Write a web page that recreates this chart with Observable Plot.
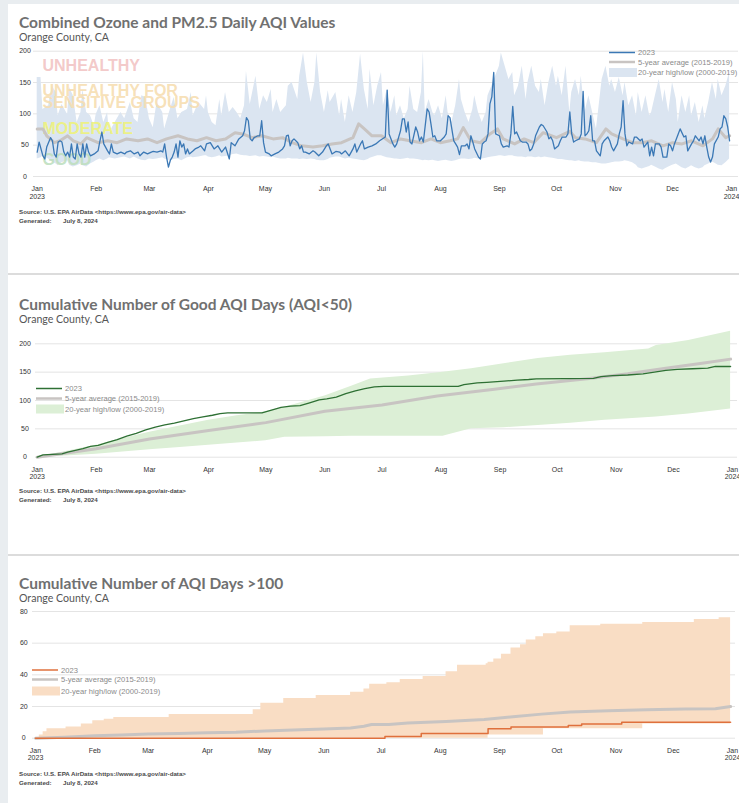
<!DOCTYPE html>
<html><head><meta charset="utf-8">
<script src="https://cdn.jsdelivr.net/npm/d3@7"></script>
<script src="https://cdn.jsdelivr.net/npm/@observablehq/plot@0.6"></script>
<style>
html,body{margin:0;padding:0;background:#fff;overflow:hidden;}
#page{position:relative;width:739px;height:803px;overflow:hidden;background:#fff;}
.strip{position:absolute;background:#e9edf0;}
.sep{position:absolute;left:8px;width:731px;height:2px;background:#dcdcdc;}
</style></head>
<body><div id="page">
<div class="strip" style="left:0;top:0;width:8px;height:803px"></div>
<div class="strip" style="left:0;top:0;width:739px;height:4px"></div>
<div class="sep" style="top:273px"></div>
<div class="sep" style="top:554px"></div>
</div>
<script>
// ---------------- DATA ----------------
// Panel 1: daily combined AQI 2023 [dayOfYear, AQI]
const aqi2023 = [[0,39],[1,55],[3,33],[4,28],[5,47],[7,62],[8,57],[9,36],[10,31],[11,55],[12,57],[13,55],[14,39],[15,33],[16,39],[17,31],[18,52],[19,31],[20,28],[21,52],[22,36],[23,31],[24,52],[25,31],[26,52],[27,39],[28,33],[30,36],[32,41],[33,57],[34,71],[35,52],[37,41],[38,36],[39,52],[40,39],[42,36],[44,39],[46,36],[47,39],[49,41],[51,36],[53,39],[54,33],[56,39],[58,36],[60,39],[61,40],[63,39],[65,41],[66,39],[67,52],[68,31],[69,15],[70,26],[71,31],[72,39],[73,52],[74,31],[75,57],[76,47],[77,52],[78,36],[79,44],[80,36],[82,41],[83,44],[85,47],[86,49],[88,41],[89,52],
[91,54],[93,44],[95,49],[97,39],[99,47],[101,28],[102,54],[104,49],[106,60],[108,65],[109,73],[110,94],[111,89],[112,60],[113,57],[114,62],[116,65],[117,65],[118,89],[119,54],[120,39],[122,36],[123,33],[125,36],[127,39],[129,44],[130,49],[131,65],[132,66],[133,49],[134,57],[135,60],[137,54],[138,44],[139,49],[140,39],[141,39],[143,36],[145,41],[146,39],[148,33],[150,39],[152,49],[153,52],[154,44],[155,36],[157,40],[159,39],[160,36],[162,41],[164,33],[166,44],[167,52],[168,39],[170,52],[171,57],[172,44],[174,47],[176,49],[178,52],[180,57],
[182,61],[183,63],[184,138],[185,68],[187,52],[188,47],[189,52],[191,73],[192,92],[193,92],[194,71],[195,87],[196,55],[197,52],[199,79],[200,71],[201,57],[202,63],[203,55],[205,108],[206,103],[207,84],[208,63],[209,65],[210,57],[212,57],[214,63],[215,68],[216,97],[217,94],[219,57],[220,52],[221,47],[222,35],[223,49],[225,49],[226,52],[227,44],[228,65],[229,55],[230,44],[232,31],[233,28],[234,52],[235,55],[236,57],[237,68],[238,116],[239,127],[240,166],[241,68],[243,65],[244,52],[245,47],[247,49],[248,47],[249,68],[250,112],[251,68],[252,71],[254,57],[255,55],[257,55],[258,52],[259,41],[260,44],[261,52],[262,65],[264,79],[265,83],[266,81],[268,71],[269,60],[270,63],[271,57],[272,44],[274,49],[275,57],[276,63],[278,63],[279,68],[280,103],[281,68],[282,55],[283,57],[285,60],[286,68],[287,136],[288,65],[289,68],[290,73],[291,97],[292,57],[293,57],[294,41],[296,33],[297,52],[298,57],[300,63],[301,57],[302,47],[303,41],[305,52],[306,68],[307,79],[308,121],[309,68],[310,49],[311,55],[313,52],[314,63],[315,63],[317,57],[318,60],[319,47],[321,55],[322,33],[323,47],[324,33],[325,52],[326,52],[327,52],[328,47],[329,31],[331,31],[332,52],[333,49],[334,41],[335,52],[336,60],[337,68],[338,76],[340,63],[341,65],[342,41],[344,52],[345,57],[346,65],[348,57],[349,63],[350,52],[351,65],[352,47],[353,31],[354,23],[355,31],[356,52],[358,63],[359,76],[360,79],[361,97],[362,92],[363,79],[364,57]];

// Panel 1: 5-year average (2015-2019) [day, AQI]
const aqiAvg = [[0,76],[3,76],[5,65],[9,54],[12,57],[16,65],[19,57],[23,52],[26,62],[32,54],[37,57],[42,54],[47,60],[53,57],[58,60],[63,54],[68,60],[74,65],[79,60],[84,57],[89,62],[94,57],[99,60],[104,70],[108,68],[113,62],[118,65],[124,60],[129,62],[134,54],[139,49],[145,47],[150,49],[155,52],[160,54],[166,62],[169,84],[172,76],[176,65],[181,65],[186,54],[191,60],[196,57],[202,54],[207,60],[212,54],[217,57],[221,60],[224,78],[228,57],[233,54],[238,68],[242,76],[245,60],[251,52],[256,60],[261,54],[266,70],[273,62],[280,72],[283,62],[288,60],[294,54],[299,76],[302,68],[308,60],[313,54],[318,54],[323,57],[329,49],[334,54],[339,52],[344,57],[350,49],[355,60],[358,76],[362,62],[364,65]];

// Panel 1: 20-year high/low (2000-2019) [day, low, high]
const aqiBand = [[0,28,158],[2,30,158],[3,33,107],[6,28,113],[8,23,144],[10,20,134],[11,17,97],[13,22,115],[16,25,99],[17,18,142],[19,15,129],[21,17,86],[23,20,102],[24,17,139],[26,15,102],[28,20,97],[30,23,81],[31,25,99],[33,28,113],[35,25,86],[37,28,102],[38,30,70],[41,28,86],[44,30,102],[46,31,92],[49,28,118],[51,31,92],[53,28,86],[55,26,129],[57,25,126],[59,28,92],[61,27,78],[63,28,118],[66,30,102],[67,28,76],[70,25,107],[72,27,126],[74,28,92],[76,25,102],[79,30,107],[81,31,134],[82,30,97],[85,31,118],[88,33,107],
[89,33,129],[90,31,102],[92,30,86],[94,31,81],[96,33,123],[97,31,97],[99,32,134],[101,33,102],[103,35,110],[105,36,102],[107,34,92],[109,33,113],[110,33,168],[112,32,115],[115,33,160],[117,31,107],[119,32,129],[121,31,118],[123,30,139],[124,31,102],[126,29,123],[128,28,102],[131,28,113],[132,29,144],[134,28,150],[137,28,123],[138,27,160],[140,28,197],[142,27,150],[144,28,118],[146,27,150],[147,26,197],[149,25,134],[151,25,102],[153,27,137],[154,29,118],[157,31,134],[159,31,97],[160,30,123],[162,28,86],[164,29,129],[166,28,102],[168,27,134],[170,26,195],[172,25,139],[174,27,107],[175,29,171],[177,31,113],[179,33,144],
[181,33,166],[182,32,113],[184,30,139],[186,29,102],[188,28,129],[189,28,97],[191,27,113],[193,28,92],[195,29,107],[196,28,144],[198,28,107],[200,27,102],[202,26,134],[203,25,200],[204,26,102],[206,25,123],[208,26,102],[209,25,97],[211,24,113],[213,25,92],[215,26,129],[216,25,102],[218,24,86],[220,25,113],[222,27,155],[223,28,123],[225,28,102],[227,27,86],[229,28,107],[230,29,129],[232,28,102],[234,28,86],[236,29,102],[237,30,129],[239,31,144],[241,32,160],[243,33,176],[244,33,197],[246,32,176],[248,33,155],[250,33,166],[251,32,129],[253,31,144],[255,31,176],[257,30,123],[258,31,150],[260,31,176],[262,30,144],[264,31,134],[265,30,155],[267,31,113],[269,30,150],[271,29,176],
[273,28,144],[274,27,160],[276,27,129],[278,26,176],[280,25,102],[281,25,134],[283,24,155],[285,25,129],[286,24,160],[288,23,102],[290,23,129],[292,22,102],[294,22,76],[295,21,102],[297,20,155],[299,20,176],[301,21,144],[302,22,155],[304,23,134],[306,23,158],[308,24,129],[309,25,150],[311,24,113],[313,22,129],[315,18,97],[316,14,134],[318,12,102],[320,14,129],[322,16,97],[323,18,102],[325,15,129],[327,12,155],[329,10,118],[330,12,139],[332,15,102],[334,18,150],[336,20,123],[337,18,86],[339,14,129],[341,12,102],[343,15,129],[344,17,97],[346,14,118],[348,12,86],[350,14,113],[351,17,92],[353,20,118],[355,23,150],[357,20,123],[358,18,155],[360,17,129],[362,22,144],[364,28,166]];

// AQI category labels and their mid values
const aqiCategories = ["UNHEALTHY", "UNHEALTHY FOR\nSENSITIVE GROUPS", "MODERATE", "GOOD"];
const aqiCategoryMid = [175, 125, 75, 25];

// Panel 2: cumulative good days [day, count]
const good2023 = [[0,0],[3,4],[8,5],[13,6],[16,9],[20,12],[24,15],[28,19],[32,21],[37,26],[42,31],[47,37],[52,42],[57,48],[62,53],[67,57],[72,60],[77,64],[82,68],[87,71],[92,74],[96,77],[100,78],[110,78],[118,78],[123,83],[128,88],[133,90],[138,91],[143,96],[148,101],[152,103],[157,106],[162,112],[167,117],[172,121],[177,124],[182,125],[221,125],[224,128],[231,131],[236,132],[245,134],[252,136],[258,137],[262,138],[292,139],[296,142],[302,144],[310,145],[318,147],[324,150],[330,153],[336,155],[344,156],[352,157],[356,160],[364,160]];
const goodAvg = [[0,0],[31,15],[59,32],[90,47],[120,61],[151,81],[181,92],[210,108],[240,120],[262,129],[290,139],[310,147],[330,157],[350,166],[364,173]];
const goodBand = [[0,0,0],[15,2,10],[31,5,21],[45,9,33],[59,13,44],[75,17,55],[90,21,65],[105,25,73],[120,29,80],[130,35,88],[151,36,108],[165,37,125],[175,37,138],[195,37,143],[213,37,150],[228,50,156],[245,52,165],[263,56,174],[280,60,180],[298,65,184],[321,70,191],[325,71,197],[342,76,206],[364,85,222]];

// Panel 3: cumulative days AQI > 100 [day, count]
const over2023 = [[0,0],[183,1],[202,3],[237,6],[249,7],[279,8],[286,9],[307,10],[364,10]];
const overAvg = [[0,0],[15,0.6],[31,1.5],[45,2],[59,2.6],[75,3],[90,3.4],[105,3.8],[120,4.6],[135,5.2],[151,5.8],[165,6.4],[172,7.5],[176,8.6],[185,8.6],[195,9.6],[215,10.5],[235,11.8],[250,13.5],[265,15.2],[280,16.6],[300,17.4],[320,18],[340,18.5],[356,18.6],[364,20]];
const overBand = [[0,0,0],[2,0,2],[4,0,4],[6,0,6],[16,0,7],[24,0,9],[30,0,11],[36,0,12],[41,0,13],[70,0,15],[114,0,18],[118,0,22],[130,0,25],[147,0,27],[165,0,29],[172,0,31],[175,0,34],[184,0,35],[191,0,37],[203,0,39],[215,0,42],[221,0,46],[236,0,47],[237,2,48],[240,2,50],[244,2,53],[249,2,57],[254,2,59],[257,2,62],[262,2,64],[266,6,66],[273,6,67],[280,6,71],[296,6,72],[318,9,73],[345,9,75],[358,9,76],[364,9,76]];

const legendLabels = ["2023", "5-year average (2015-2019)", "20-year high/low (2000-2019)"];
const titles = ["Combined Ozone and PM2.5 Daily AQI Values", "Cumulative Number of Good AQI Days (AQI<50)", "Cumulative Number of AQI Days >100"];
const subtitle = "Orange County, CA";
const sourceText = "Source: U.S. EPA AirData <https://www.epa.gov/air-data>";
const generatedText = ["Generated:", "July 8, 2024"];

// ---------------- HELPERS ----------------
const START = Date.UTC(2023, 0, 1);
const END = new Date(Date.UTC(2024, 0, 1));
const toDate = d => new Date(START + d * 864e5);
const monthTicks = d3.utcMonth.range(new Date(START), d3.utcDay.offset(END, 1));
const fmtMonth = d3.utcFormat("%b");
const fmtTick = d => d.getUTCMonth() === 0 ? fmtMonth(d) + "\n" + d.getUTCFullYear() : fmtMonth(d);
const page = document.getElementById("page");

const line = arr => arr.map(([d, v]) => ({date: toDate(d), v}));
const band = arr => arr.map(([d, lo, hi]) => ({date: toDate(d), lo, hi}));

function panel({top, height, mt, mb, ml, mr, xr, yDomain, yTicks, yPad, marks}) {
  const svg = Plot.plot({
    width: 739, height,
    marginTop: mt, marginBottom: mb, marginLeft: ml, marginRight: mr,
    x: {type: "utc", domain: [new Date(START), END], range: xr},
    y: {domain: yDomain, range: [height - mb, mt]},
    style: {fontFamily: "'Liberation Sans', Arial, sans-serif", fontSize: "7px", color: "#333", background: "transparent", overflow: "visible"},
    marks: [
      Plot.gridY(yTicks, {stroke: "#e4e4e4", strokeOpacity: 1}),
      ...marks,
      Plot.axisY(yTicks, {tickSize: 0, tickPadding: yPad, textAnchor: "middle", fontSize: 7}),
      Plot.axisX(monthTicks, {tickSize: 0, tickPadding: 9, tickFormat: fmtTick, lineHeight: 1.1, fontSize: 7})
    ]
  });
  svg.style.position = "absolute";
  svg.style.left = "0px";
  svg.style.top = top + "px";
  page.appendChild(svg);
}

const catColors = ["#f2c3c3", "#f6ddb0", "#eef27a", "#bedfbe"];
const catTable = aqiCategories.map((label, i) => ({label, mid: aqiCategoryMid[i], color: catColors[i]}));

// Panel 1
panel({
  top: 45, height: 160, mt: 5.7, mb: 29, ml: 33, mr: 1, xr: [36.7, 731],
  yDomain: [0, 200], yTicks: [0, 50, 100, 150, 200], yPad: 8.5,
  marks: [
    Plot.areaY(band(aqiBand), {x: "date", y1: "lo", y2: "hi", fill: "#dbe5f1"}),
    Plot.text(catTable, {y: "mid", text: "label", fill: "color", frameAnchor: "left", dx: 9, textAnchor: "start",
      fontSize: 16, fontWeight: "bold", lineHeight: 0.78, fontFamily: "'Liberation Sans', Arial, sans-serif", fillOpacity: 0.9}),
    Plot.lineY(line(aqiAvg), {x: "date", y: "v", stroke: "#c8c4c2", strokeWidth: 3}),
    Plot.lineY(line(aqi2023), {x: "date", y: "v", stroke: "#3b78b5", strokeWidth: 1.3})
  ]
});

// Panel 2
panel({
  top: 325, height: 160, mt: 18.3, mb: 28.3, ml: 35, mr: 2, xr: [36.7, 732],
  yDomain: [0, 200], yTicks: [0, 50, 100, 150, 200], yPad: 10.5,
  marks: [
    Plot.areaY(band(goodBand), {x: "date", y1: "lo", y2: "hi", fill: "#dcefd6"}),
    Plot.lineY(line(goodAvg), {x: "date", y: "v", stroke: "#c8c4c2", strokeWidth: 3}),
    Plot.lineY(line(good2023), {x: "date", y: "v", stroke: "#2e7034", strokeWidth: 1.3})
  ]
});

// Panel 3
panel({
  top: 600, height: 165, mt: 11, mb: 27.3, ml: 32, mr: 4, xr: [35, 732],
  yDomain: [0, 80], yTicks: [0, 20, 40, 60, 80], yPad: 8.7,
  marks: [
    Plot.areaY(band(overBand), {x: "date", y1: "lo", y2: "hi", fill: "#f9ddc4", curve: "step-after"}),
    Plot.lineY(line(overAvg), {x: "date", y: "v", stroke: "#c8c4c2", strokeWidth: 3}),
    Plot.lineY(line(over2023), {x: "date", y: "v", stroke: "#df703c", strokeWidth: 1.5, curve: "step-after"})
  ]
});

// ---------------- TEXT OVERLAY (titles, legends, sources) ----------------
const ov = d3.select(page).append("svg")
  .attr("width", 739).attr("height", 803)
  .style("position", "absolute").style("left", "0px").style("top", "0px");

const layout = [
  {title: 28.3, sub: 41, src: 213.5, gen: 222.5, lx: 609, ly: [52.5, 62, 72.5], line: "#3b78b5", fill: "#dbe5f1"},
  {title: 310, sub: 323.3, src: 492.7, gen: 502.3, lx: 36, ly: [388.5, 398.5, 409], line: "#2e7034", fill: "#dcefd6"},
  {title: 589, sub: 602.3, src: 775.5, gen: 784.5, lx: 32, ly: [670, 679.5, 691], line: "#df703c", fill: "#f9ddc4"}
];

layout.forEach((L, i) => {
  ov.append("text").attr("x", 19).attr("y", L.title).text(titles[i])
    .attr("font-family", "Lato, 'Open Sans', sans-serif").attr("font-weight", 700)
    .attr("font-size", 15.5).attr("fill", "#707070");
  ov.append("text").attr("x", 19).attr("y", L.sub).text(subtitle)
    .attr("font-family", "Lato, 'Open Sans', sans-serif").attr("font-weight", 400)
    .attr("font-size", 10.6).attr("fill", "#555");
  const sf = "'Liberation Sans', Arial, sans-serif";
  ov.append("text").attr("x", 19).attr("y", L.src).text(sourceText)
    .attr("font-family", sf).attr("font-weight", 700).attr("font-size", 6.2).attr("fill", "#4a4a4a");
  ov.append("text").attr("x", 19).attr("y", L.gen).text(generatedText[0])
    .attr("font-family", sf).attr("font-weight", 700).attr("font-size", 6.2).attr("fill", "#4a4a4a");
  ov.append("text").attr("x", 63).attr("y", L.gen).text(generatedText[1])
    .attr("font-family", sf).attr("font-weight", 700).attr("font-size", 6.2).attr("fill", "#4a4a4a");
  // legend
  const g = ov.append("g");
  g.append("line").attr("x1", L.lx).attr("x2", L.lx + 26).attr("y1", L.ly[0]).attr("y2", L.ly[0])
    .attr("stroke", L.line).attr("stroke-width", 1.5);
  g.append("line").attr("x1", L.lx).attr("x2", L.lx + 26).attr("y1", L.ly[1]).attr("y2", L.ly[1])
    .attr("stroke", "#c8c4c2").attr("stroke-width", 2.5);
  g.append("rect").attr("x", L.lx).attr("y", L.ly[2] - 4.5).attr("width", 28).attr("height", 9)
    .attr("fill", L.fill);
  legendLabels.forEach((t, k) => {
    g.append("text").attr("x", L.lx + 29).attr("y", L.ly[k]).attr("dy", "0.35em").text(t)
      .attr("font-family", sf).attr("font-size", 7.6).attr("fill", "#8a8a8a");
  });
});
</script>
</body></html>
